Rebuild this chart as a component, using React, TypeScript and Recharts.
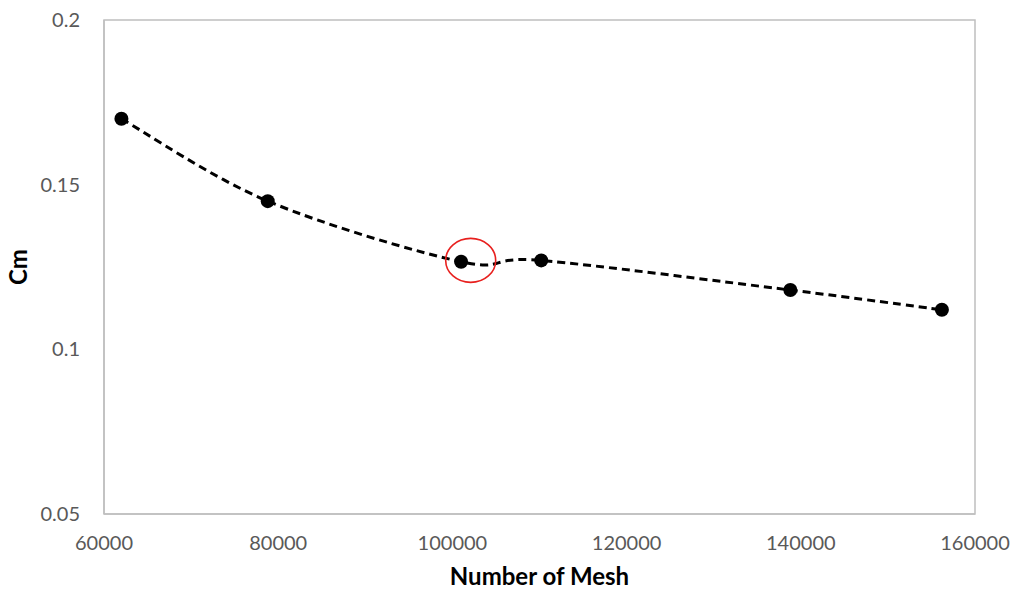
import React from "react";
import { ComposedChart, Line, XAxis, YAxis, ReferenceArea, ReferenceDot, Label } from "recharts";

const meshCounts = [62000, 78800, 101000, 110200, 138800, 156200];
const cmValues = [0.17, 0.145, 0.1266, 0.127, 0.118, 0.112];
const xTicks = [60000, 80000, 100000, 120000, 140000, 160000];
const yTicks = [0.05, 0.1, 0.15, 0.2];
const highlight = { x: 102100, y: 0.127 };

const data = meshCounts.map((m, i) => ({ mesh: m, cm: cmValues[i] }));

// Catmull-Rom style smoothing (similar to Excel's smoothed line)
const smoothCurve = (context: any) => {
  let pts: number[][] = [];
  return {
    areaStart() {},
    areaEnd() {},
    lineStart() {
      pts = [];
    },
    point(x: number, y: number) {
      pts.push([+x, +y]);
    },
    lineEnd() {
      if (!pts.length) return;
      context.moveTo(pts[0][0], pts[0][1]);
      for (let i = 0; i < pts.length - 1; i++) {
        const p0 = pts[i - 1] || pts[i];
        const p1 = pts[i];
        const p2 = pts[i + 1];
        const p3 = pts[i + 2] || p2;
        const c1x = p1[0] + (p2[0] - p0[0]) / 6;
        const c1y = p1[1] + (p2[1] - p0[1]) / 6;
        const c2x = p2[0] - (p3[0] - p1[0]) / 6;
        const c2y = p2[1] - (p3[1] - p1[1]) / 6;
        context.bezierCurveTo(c1x, c1y, c2x, c2y, p2[0], p2[1]);
      }
    },
  };
};

const Ellipse = (props: any) => {
  const { cx, cy } = props;
  if (cx == null || cy == null) return null;
  return <ellipse cx={cx} cy={cy} rx={25} ry={22} fill="none" stroke="#E8201E" strokeWidth={1.6} />;
};

const FONT = "Lato, 'Open Sans', sans-serif";
const tickStyle = { fill: "#595959", fontSize: 20, fontFamily: FONT };

export default function App() {
  return (
    <div style={{ position: "absolute", left: 0, top: 0, width: 1012, height: 591, background: "#fff" }}>
      <ComposedChart width={1012} height={591} data={data} margin={{ top: 20, right: 37, left: 0, bottom: 0 }}>
        <XAxis
          dataKey="mesh"
          type="number"
          domain={[60000, 160000]}
          ticks={xTicks}
          tickLine={false}
          tickSize={0}
          tickMargin={22}
          axisLine={{ stroke: "#BFBFBF", strokeWidth: 1.5 }}
          tick={tickStyle}
          height={77}
          interval={0}
        >
          <Label
            value="Number of Mesh"
            position="insideBottom"
            offset={6}
            style={{ fill: "#000", fontSize: 24, fontWeight: 700, fontFamily: FONT }}
          />
        </XAxis>
        <YAxis
          type="number"
          domain={[0.05, 0.2]}
          ticks={yTicks}
          tickLine={false}
          tickSize={0}
          tickMargin={24}
          axisLine={{ stroke: "#BFBFBF", strokeWidth: 1.5 }}
          tick={tickStyle}
          width={104}
          interval={0}
        >
          <Label
            value="Cm"
            angle={-90}
            position="insideLeft"
            offset={18}
            style={{ fill: "#000", fontSize: 24, fontWeight: 700, fontFamily: FONT, textAnchor: "middle" }}
          />
        </YAxis>
        <ReferenceArea x1={60000} x2={160000} y1={0.05} y2={0.2} fill="none" stroke="#BFBFBF" strokeWidth={1.5} />
        <Line
          dataKey="cm"
          type={smoothCurve as any}
          stroke="#000"
          strokeWidth={3}
          strokeDasharray="8 5"
          dot={{ r: 7, fill: "#000", stroke: "#000", strokeWidth: 0 }}
          activeDot={false}
          isAnimationActive={false}
        />
        <ReferenceDot x={highlight.x} y={highlight.y} r={25} shape={Ellipse} />
      </ComposedChart>
    </div>
  );
}
